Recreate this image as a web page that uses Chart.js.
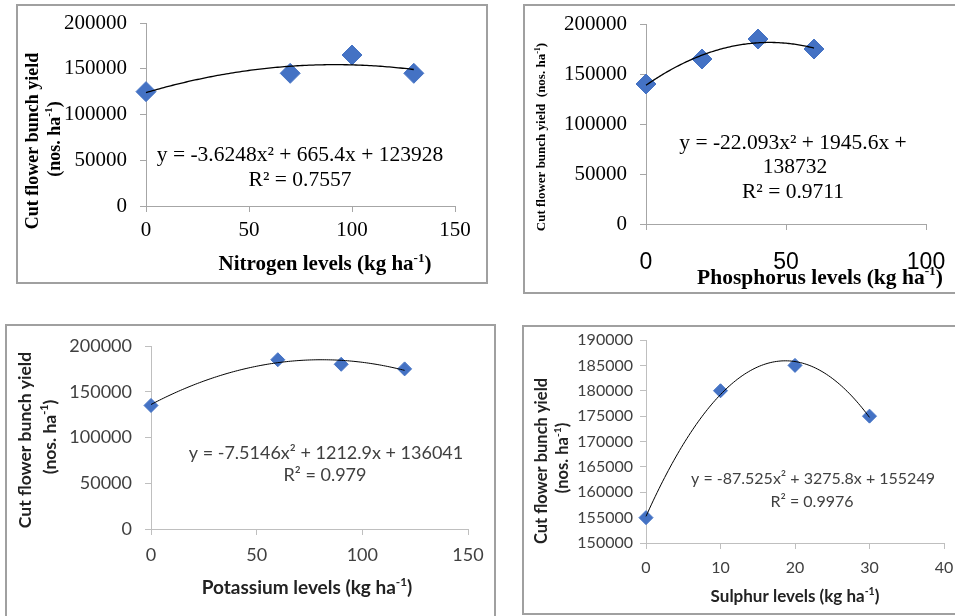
<!DOCTYPE html>
<html><head><meta charset="utf-8">
<script src="https://cdn.jsdelivr.net/npm/chart.js@4"></script>
<style>
html,body{margin:0;padding:0;background:#fff;overflow:hidden;width:955px;height:616px;}
.box{position:absolute;border:2px solid #a0a0a0;box-sizing:border-box;}
canvas{position:absolute;}
</style></head><body>
<div class="box" style="left:16px;top:4px;width:472px;height:280px"></div>
<div class="box" style="left:523px;top:4px;width:500px;height:290px"></div>
<div class="box" style="left:5px;top:324px;width:491px;height:400px"></div>
<div class="box" style="left:522px;top:325px;width:500px;height:290px"></div>
<canvas id="c1" style="left:17px;top:5px" width="470" height="278"></canvas>
<canvas id="c2" style="left:524px;top:5px" width="440" height="288"></canvas>
<canvas id="c3" style="left:6px;top:325px" width="489" height="291"></canvas>
<canvas id="c4" style="left:523px;top:326px" width="440" height="288"></canvas>
<script>
// ---- data ----
const nitrogenLevels = [0, 70, 100, 130];
const nitrogenYield = [125000, 145000, 165000, 145000];
const nitrogenFit = [-3.6248, 665.4, 123928];

const phosphorusLevels = [0, 20, 40, 60];
const phosphorusYield = [140000, 165000, 185000, 175000];
const phosphorusFit = [-22.093, 1945.6, 138732];

const potassiumLevels = [0, 60, 90, 120];
const potassiumYield = [135000, 185000, 180000, 175000];
const potassiumFit = [-7.5146, 1212.9, 136041];

const sulphurLevels = [0, 10, 20, 30];
const sulphurYield = [155000, 180000, 185000, 175000];
const sulphurFit = [-87.525, 3275.8, 155249];

const yTicksMain = [0, 50000, 100000, 150000, 200000];
const yTicksSulphur = [150000, 155000, 160000, 165000, 170000, 175000, 180000, 185000, 190000];
const xTicksN = [0, 50, 100, 150];
const xTicksP = [0, 50, 100];
const xTicksK = [0, 50, 100, 150];
const xTicksS = [0, 10, 20, 30, 40];

const eqN = ['y = -3.6248x² + 665.4x + 123928', 'R² = 0.7557'];
const eqP = ['y = -22.093x² + 1945.6x +', '138732', 'R² = 0.9711'];
const eqK = ['y = -7.5146x² + 1212.9x + 136041', 'R² = 0.979'];
const eqS = ['y = -87.525x² + 3275.8x + 155249', 'R² = 0.9976'];

const yTitle1 = 'Cut flower bunch yield';
const yTitle2 = '(nos. ha';
const xTitleN = 'Nitrogen levels (kg ha';
const xTitleP = 'Phosphorus levels (kg ha';
const xTitleK = 'Potassium levels (kg ha';
const xTitleS = 'Sulphur levels (kg ha';

// ---- helpers ----
const SERIF = '"Liberation Serif", "Times New Roman", serif';
const SANS = 'Lato, "Liberation Sans", sans-serif';
const ARIAL = '"Liberation Sans", Arial, sans-serif';

function drawRich(ctx, segs, x, y, family, size, weight, color, rot) {
  ctx.save();
  ctx.translate(x, y);
  if (rot) ctx.rotate(rot);
  ctx.fillStyle = color;
  ctx.textBaseline = 'middle';
  ctx.textAlign = 'left';
  let total = 0;
  const widths = segs.map(s => {
    const sz = s[1] ? size * 0.62 : size;
    ctx.font = `${weight} ${sz}px ${family}`;
    const w = ctx.measureText(s[0]).width;
    total += w;
    return w;
  });
  let cx = -total / 2;
  segs.forEach((s, i) => {
    const sz = s[1] ? size * 0.62 : size;
    ctx.font = `${weight} ${sz}px ${family}`;
    ctx.fillText(s[0], cx, s[1] ? -size * 0.32 : 0);
    cx += widths[i];
  });
  ctx.restore();
}

const textPlugin = {
  id: 'texts',
  afterDatasetsDraw(chart) {
    const o = chart.options.plugins.texts;
    const ctx = chart.ctx;
    const xs = chart.scales.x, ys = chart.scales.y;
    const c = o.fit;
    ctx.save();
    ctx.beginPath();
    const n = 120;
    for (let i = 0; i <= n; i++) {
      const xv = o.fitMin + (o.fitMax - o.fitMin) * i / n;
      const yv = c[0] * xv * xv + c[1] * xv + c[2];
      const px = xs.getPixelForValue(xv), py = ys.getPixelForValue(yv);
      if (i === 0) ctx.moveTo(px, py); else ctx.lineTo(px, py);
    }
    ctx.strokeStyle = '#000';
    ctx.lineWidth = o.fitWidth;
    ctx.stroke();
    ctx.restore();
    o.items.forEach(t => drawRich(ctx, t.segs, t.x, t.y, t.family, t.size, t.weight, t.color, t.rot));
  }
};

function makeChart(id, d) {
  const pts = d.xs.map((x, i) => ({x: x, y: d.ys[i]}));
  return new Chart(document.getElementById(id), {
    type: 'scatter',
    data: {datasets: [{data: pts, pointStyle: 'rectRot', pointRadius: d.r, pointHoverRadius: d.r, clip: false,
      backgroundColor: '#4472C4', borderColor: '#4472C4', borderWidth: 1}]},
    options: {
      responsive: false, animation: false, events: [],
      layout: {padding: d.pad},
      plugins: {legend: {display: false}, tooltip: {enabled: false},
        texts: {items: d.items, fit: d.fit, fitMin: 0, fitMax: Math.max(...d.xs), fitWidth: d.fitWidth}},
      scales: {
        x: {type: 'linear', min: d.xt[0], max: d.xt[d.xt.length - 1],
          afterBuildTicks: s => { s.ticks = d.xt.map(v => ({value: v})); },
          afterFit: s => { s.height = d.xh; s.paddingLeft = 0; s.paddingRight = 0; },
          grid: {drawOnChartArea: false, drawTicks: true, tickLength: 6, color: d.axisColor},
          border: {display: true, color: d.axisColor, width: 1},
          ticks: {padding: d.xpad, color: d.tickColor, font: d.xfont, maxRotation: 0, callback: v => String(v)}},
        y: {type: 'linear', min: d.yt[0], max: d.yt[d.yt.length - 1],
          afterBuildTicks: s => { s.ticks = d.yt.map(v => ({value: v})); },
          afterFit: s => { s.width = d.yw; s.paddingTop = 0; s.paddingBottom = 0; },
          grid: {drawOnChartArea: false, drawTicks: true, tickLength: 6, color: d.axisColor},
          border: {display: true, color: d.axisColor, width: 1},
          ticks: {padding: d.ypad, color: d.tickColor, font: d.yfont, callback: v => String(v)}}
      }
    },
    plugins: [textPlugin]
  });
}

const R = -Math.PI / 2;

// Panel 1: Nitrogen
makeChart('c1', {
  xs: nitrogenLevels, ys: nitrogenYield, fit: nitrogenFit, r: 10, fitWidth: 1.3,
  xt: xTicksN, yt: yTicksMain, yw: 129, xh: 40, pad: {top: 18, left: 0, right: 32, bottom: 37},
  xpad: 6, ypad: 13, axisColor: '#a6a6a6', tickColor: '#000',
  xfont: {family: SERIF, size: 21}, yfont: {family: SERIF, size: 21},
  items: [
    {segs: [[yTitle1]], x: 16, y: 136, family: SERIF, size: 18, weight: 'bold', color: '#000', rot: R},
    {segs: [[yTitle2], ['-1', true], [')']], x: 38, y: 134, family: SERIF, size: 18, weight: 'bold', color: '#000', rot: R},
    {segs: [[xTitleN], ['-1', true], [')']], x: 308, y: 260, family: SERIF, size: 21, weight: 'bold', color: '#000'},
    {segs: [[eqN[0]]], x: 283, y: 150, family: SERIF, size: 21.5, weight: 'normal', color: '#000'},
    {segs: [[eqN[1]]], x: 283, y: 175, family: SERIF, size: 21.5, weight: 'normal', color: '#000'}
  ]
});

// Panel 2: Phosphorus
makeChart('c2', {
  xs: phosphorusLevels, ys: phosphorusYield, fit: phosphorusFit, r: 10, fitWidth: 1.3,
  xt: xTicksP, yt: yTicksMain, yw: 122, xh: 60, pad: {top: 19, left: 0, right: 38, bottom: 9},
  xpad: 19, ypad: 13, axisColor: '#a6a6a6', tickColor: '#000',
  xfont: {family: ARIAL, size: 23}, yfont: {family: SERIF, size: 21},
  items: [
    {segs: [[yTitle1 + '  ' + yTitle2], ['-1', true], [')']], x: 18, y: 132, family: SERIF, size: 13, weight: 'bold', color: '#000', rot: R},
    {segs: [[xTitleP], ['-1', true], [')']], x: 296, y: 273, family: SERIF, size: 21.5, weight: 'bold', color: '#000'},
    {segs: [[eqP[0]]], x: 269, y: 138, family: SERIF, size: 21.5, weight: 'normal', color: '#000'},
    {segs: [[eqP[1]]], x: 271, y: 162, family: SERIF, size: 21.5, weight: 'normal', color: '#000'},
    {segs: [[eqP[2]]], x: 269, y: 187, family: SERIF, size: 21.5, weight: 'normal', color: '#000'}
  ]
});

// Panel 3: Potassium
makeChart('c3', {
  xs: potassiumLevels, ys: potassiumYield, fit: potassiumFit, r: 7, fitWidth: 1,
  xt: xTicksK, yt: yTicksMain, yw: 145, xh: 40, pad: {top: 21, left: 0, right: 27, bottom: 47},
  xpad: 9, ypad: 13, axisColor: '#bfbfbf', tickColor: '#404040',
  xfont: {family: SANS, size: 18}, yfont: {family: SANS, size: 18},
  items: [
    {segs: [[yTitle1]], x: 19, y: 115, family: SANS, size: 17.5, weight: 'bold', color: '#222', rot: R},
    {segs: [[yTitle2], ['-1', true], [')']], x: 44, y: 112, family: SANS, size: 17.5, weight: 'bold', color: '#222', rot: R},
    {segs: [[xTitleK], ['-1', true], [')']], x: 301, y: 263, family: SANS, size: 19, weight: 'bold', color: '#222'},
    {segs: [[eqK[0]]], x: 320, y: 128, family: SANS, size: 18, weight: 'normal', color: '#404040'},
    {segs: [[eqK[1]]], x: 319, y: 150, family: SANS, size: 18, weight: 'normal', color: '#404040'}
  ]
});

// Panel 4: Sulphur
makeChart('c4', {
  xs: sulphurLevels, ys: sulphurYield, fit: sulphurFit, r: 7, fitWidth: 1,
  xt: xTicksS, yt: yTicksSulphur, yw: 123, xh: 40, pad: {top: 14, left: 0, right: 19, bottom: 31},
  xpad: 9, ypad: 7, axisColor: '#bfbfbf', tickColor: '#404040',
  xfont: {family: SANS, size: 16}, yfont: {family: SANS, size: 16},
  items: [
    {segs: [[yTitle1]], x: 19, y: 135, family: SANS, size: 16.5, weight: 'bold', color: '#222', rot: R},
    {segs: [[yTitle2], ['-1', true], [')']], x: 40, y: 132, family: SANS, size: 16.5, weight: 'bold', color: '#222', rot: R},
    {segs: [[xTitleS], ['-1', true], [')']], x: 272, y: 271, family: SANS, size: 17, weight: 'bold', color: '#222'},
    {segs: [[eqS[0]]], x: 290, y: 153, family: SANS, size: 16, weight: 'normal', color: '#404040'},
    {segs: [[eqS[1]]], x: 289, y: 176, family: SANS, size: 16, weight: 'normal', color: '#404040'}
  ]
});
</script>
</body></html>
